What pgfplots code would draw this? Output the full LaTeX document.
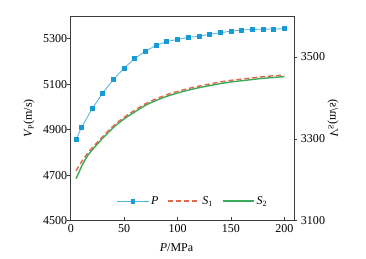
\documentclass[border=0pt]{standalone}
\usepackage{fontspec}
\setmainfont{Liberation Serif}
\usepackage{pgfplots}
\pgfplotsset{compat=1.18}
\definecolor{cP}{RGB}{24,155,212}
\definecolor{cPl}{RGB}{80,178,224}
\definecolor{cS1}{RGB}{222,104,72}
\definecolor{cS2}{RGB}{58,170,90}
\definecolor{axc}{RGB}{60,60,60}
\pgfplotsset{
 mylegend/.style={legend image code/.code={\draw[mark repeat=2, mark phase=2,##1] plot coordinates {(0cm,0cm) (0.55cm,0cm) (1.1cm,0cm)};}},
}
\begin{document}
\begin{tikzpicture}[font=\fontsize{12}{14}\selectfont]
\pgfplotsset{
 every axis/.append style={
  scale only axis, width=223pt, height=204.7pt, xmin=0, xmax=209,
  axis line style={axc, line width=0.8pt},
  /pgf/number format/assume math mode=true,
  /pgf/number format/1000 sep={},
  tick style={axc, line width=0.8pt},
  major tick length=3.5pt,
  ticklabel style={font=\fontsize{12}{14}\selectfont},
  label style={font=\fontsize{12}{14}\selectfont},
 }
}
\begin{axis}[name=ax, ymin=4500, ymax=5400,
  ytick={4500,4700,4900,5100,5300}, xtick={0,50,100,150,200},
  xtick pos=bottom, ytick pos=left, tick align=inside,
  ytick style={xshift=-3.5pt},
  xlabel={\textit{P}/MPa}, ylabel={\textit{V}\textsubscript{P}(m/s)},
  xlabel style={at={(axis description cs:0.474,-0.128)}, anchor=center},
  ylabel style={at={(axis description cs:-0.187,0.5)}, anchor=center}]
\addplot[cPl, line width=0.8pt, mark=square*, mark size=2pt, mark options={cP, fill=cP}] coordinates {
(5,4858) (10,4910) (20,4993) (30,5062) (40,5121) (50,5171) (60,5214) (70,5246)
(80,5271) (90,5288) (100,5297) (110,5306) (120,5311) (130,5320) (140,5326)
(150,5334) (160,5338) (170,5341) (180,5342) (190,5343) (200,5344)};
\end{axis}
\begin{axis}[ymin=3100, ymax=3600, ytick={3100,3300,3500},
  axis x line=none, axis y line*=right, tick align=outside,
  ylabel={\textit{V}\textsubscript{S}(m/s)},
  ylabel style={at={(axis description cs:1.175,0.5)}, anchor=center, rotate=0, yscale=-1},
  legend style={at={(0.548,0.096)}, anchor=center, draw=none,
    legend columns=3, font=\fontsize{12}{14}\selectfont,
    /tikz/every even column/.append style={column sep=7pt}},
  mylegend]
\addlegendimage{color=cPl, draw=cPl, line width=0.8pt, mark=square*, mark size=1.8pt, mark options={draw=cP, fill=cP}}
\addlegendentry{\textit{P}}
\addlegendimage{color=cS1, draw=cS1, line width=1.5pt, dash pattern=on 5pt off 3pt}
\addlegendentry{\textit{S}\textsubscript{1}}
\addlegendimage{color=cS2, draw=cS2, line width=1.5pt}
\addlegendentry{\textit{S}\textsubscript{2}}
\addplot[cS2, line width=1.4pt, smooth, forget plot] coordinates {
(5,3203) (10,3232) (15,3256) (20,3273) (30,3302) (40,3328) (50,3349) (60,3366)
(70,3382) (80,3394) (90,3404) (100,3412) (110,3419) (120,3425) (130,3430)
(140,3435) (150,3439) (160,3442) (170,3445) (180,3448) (190,3450) (200,3452)};
\addplot[cS1, line width=1.4pt, dash pattern=on 5pt off 3pt, smooth, forget plot] coordinates {
(5,3222) (10,3244) (15,3262) (20,3278) (30,3306) (40,3332) (50,3353) (60,3370)
(70,3386) (80,3398) (90,3408) (100,3416) (110,3423) (120,3429) (130,3434)
(140,3439) (150,3443) (160,3446) (170,3449) (180,3452) (190,3454) (200,3456)};
\end{axis}
\path ([shift={(-70.7pt,-37.3pt)}]ax.south west) rectangle ([shift={(72pt,16pt)}]ax.north east);
\end{tikzpicture}
\end{document}
